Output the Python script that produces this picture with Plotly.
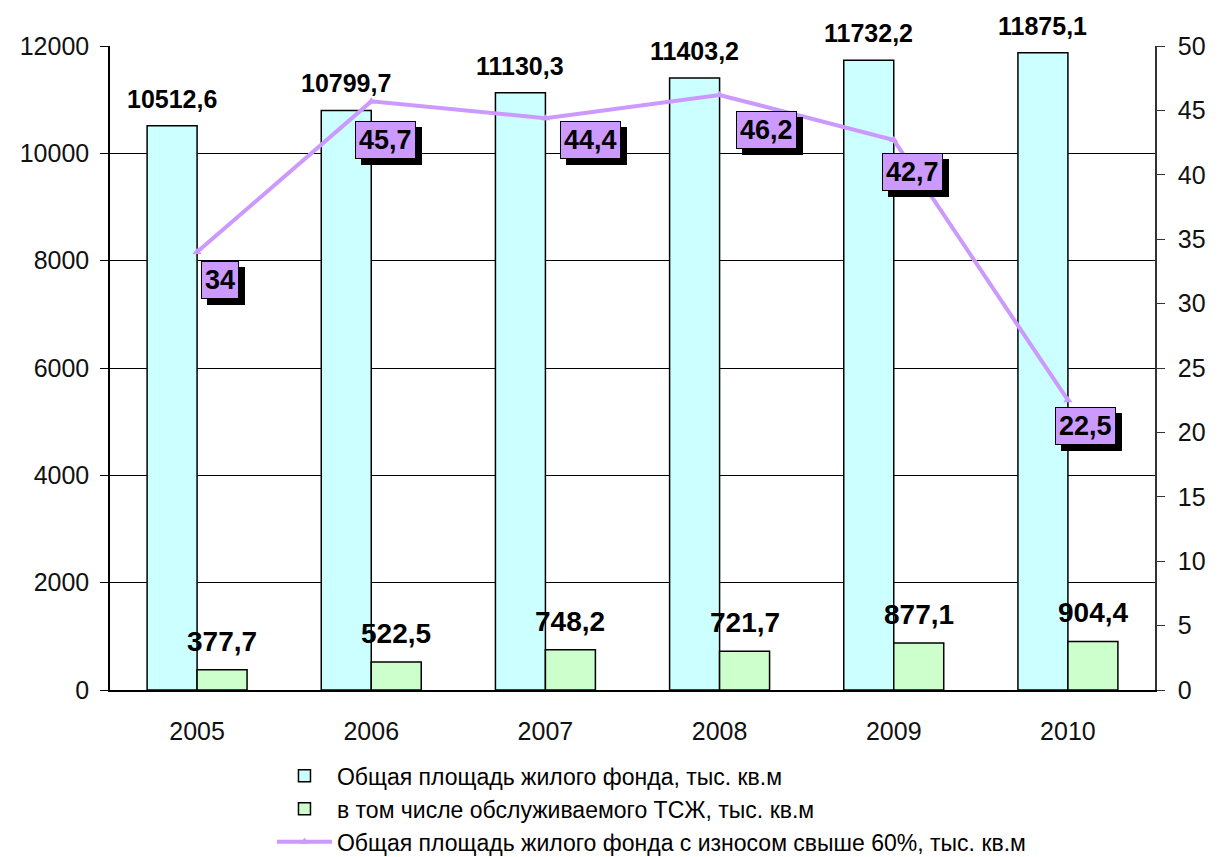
import plotly.graph_objects as go

years = ["2005", "2006", "2007", "2008", "2009", "2010"]
total_area = [10512.6, 10799.7, 11130.3, 11403.2, 11732.2, 11875.1]
tszh_area = [377.7, 522.5, 748.2, 721.7, 877.1, 904.4]
worn_area = [34, 45.7, 44.4, 46.2, 42.7, 22.5]

name_total = "Общая площадь жилого фонда, тыс. кв.м"
name_tszh = "в том числе обслуживаемого ТСЖ, тыс. кв.м"
name_worn = "Общая площадь жилого фонда с износом свыше 60%, тыс. кв.м"

# label placement (pixel offsets of the line data-label boxes, style only)
label_dx = [23, 14, 45, 47, 19, 18]
label_dy = [28, 39, 22, 35, 32, 26]

FONT = "Liberation Sans, Arial, sans-serif"
BARGAP = 0.426

def fmt(v):
    return ("%g" % v).replace(".", ",")

pos = list(range(len(years)))
half = (1 - BARGAP) / 4  # offset of each bar centre from the category centre

fig = go.Figure()
fig.add_trace(go.Bar(
    x=pos, y=total_area, name=name_total, legendgroup="a",
    marker=dict(color="#ccffff", line=dict(color="black", width=1.5)),
))
fig.add_trace(go.Bar(
    x=pos, y=tszh_area, name=name_tszh, legendgroup="b",
    marker=dict(color="#ccffcc", line=dict(color="black", width=1.5)),
))
fig.add_trace(go.Scatter(
    x=pos, y=worn_area, name=name_worn, yaxis="y2", legendgroup="c",
    mode="lines+markers",
    line=dict(color="#cc99ff", width=4),
    marker=dict(symbol="triangle-up", size=8, color="#cc99ff"),
))

annotations = []
for p, v in zip(pos, total_area):
    annotations.append(dict(
        x=p - half, y=v, xref="x", yref="y", yanchor="bottom",
        text="<b>" + fmt(v) + "</b>", showarrow=False, yshift=11,
        font=dict(family=FONT, size=25, color="black"),
    ))
for p, v in zip(pos, tszh_area):
    annotations.append(dict(
        x=p + half, y=v, xref="x", yref="y", yanchor="bottom",
        text="<b>" + fmt(v) + "</b>", showarrow=False, yshift=11,
        font=dict(family=FONT, size=28, color="black"),
    ))
for p, v, dx, dy in zip(pos, worn_area, label_dx, label_dy):
    for shadow in (True, False):
        annotations.append(dict(
            x=p, y=v, xref="x", yref="y2",
            text="<b>" + fmt(v) + "</b>",
            showarrow=False,
            xshift=dx + (6 if shadow else 0),
            yshift=-dy - (6 if shadow else 0),
            font=dict(family=FONT, size=27, color="black"),
            bgcolor="black" if shadow else "#cc99ff",
            bordercolor="black", borderwidth=1, borderpad=3,
        ))

fig.update_layout(
    width=1213, height=849,
    paper_bgcolor="white", plot_bgcolor="white",
    margin=dict(l=102, r=66, t=38, b=167, autoexpand=False),
    barmode="group", bargap=BARGAP, bargroupgap=0,
    font=dict(family=FONT, size=25, color="black"),
    xaxis=dict(
        range=[-0.5, len(years) - 0.5],
        tickmode="array", tickvals=pos, ticktext=years,
        showline=True, linecolor="black", linewidth=1.5,
        ticks="", tickfont=dict(size=25, color="#111"),
        ticklabelstandoff=18,
        showgrid=False, zeroline=False,
    ),
    yaxis=dict(
        range=[0, 12000], dtick=2000, tickformat="d",
        showgrid=True, gridcolor="black", gridwidth=1,
        showline=True, linecolor="black", linewidth=1.5,
        ticks="outside", ticklen=8, tickcolor="black",
        tickfont=dict(size=25, color="#111"),
        ticklabelstandoff=6,
        zeroline=False,
    ),
    yaxis2=dict(
        range=[0, 50], dtick=5, overlaying="y", side="right",
        showgrid=False, showline=True, linecolor="#333", linewidth=1.5,
        ticks="outside", ticklen=8, tickcolor="#333",
        tickfont=dict(size=25, color="#111"), zeroline=False,
        ticklabelstandoff=8,
    ),
    legend=dict(
        x=0.155, y=-0.1, xanchor="left", yanchor="top",
        orientation="v", font=dict(size=23, color="black"),
        tracegroupgap=0, itemwidth=55,
    ),
    annotations=annotations,
)

fig.write_html("out.html")
